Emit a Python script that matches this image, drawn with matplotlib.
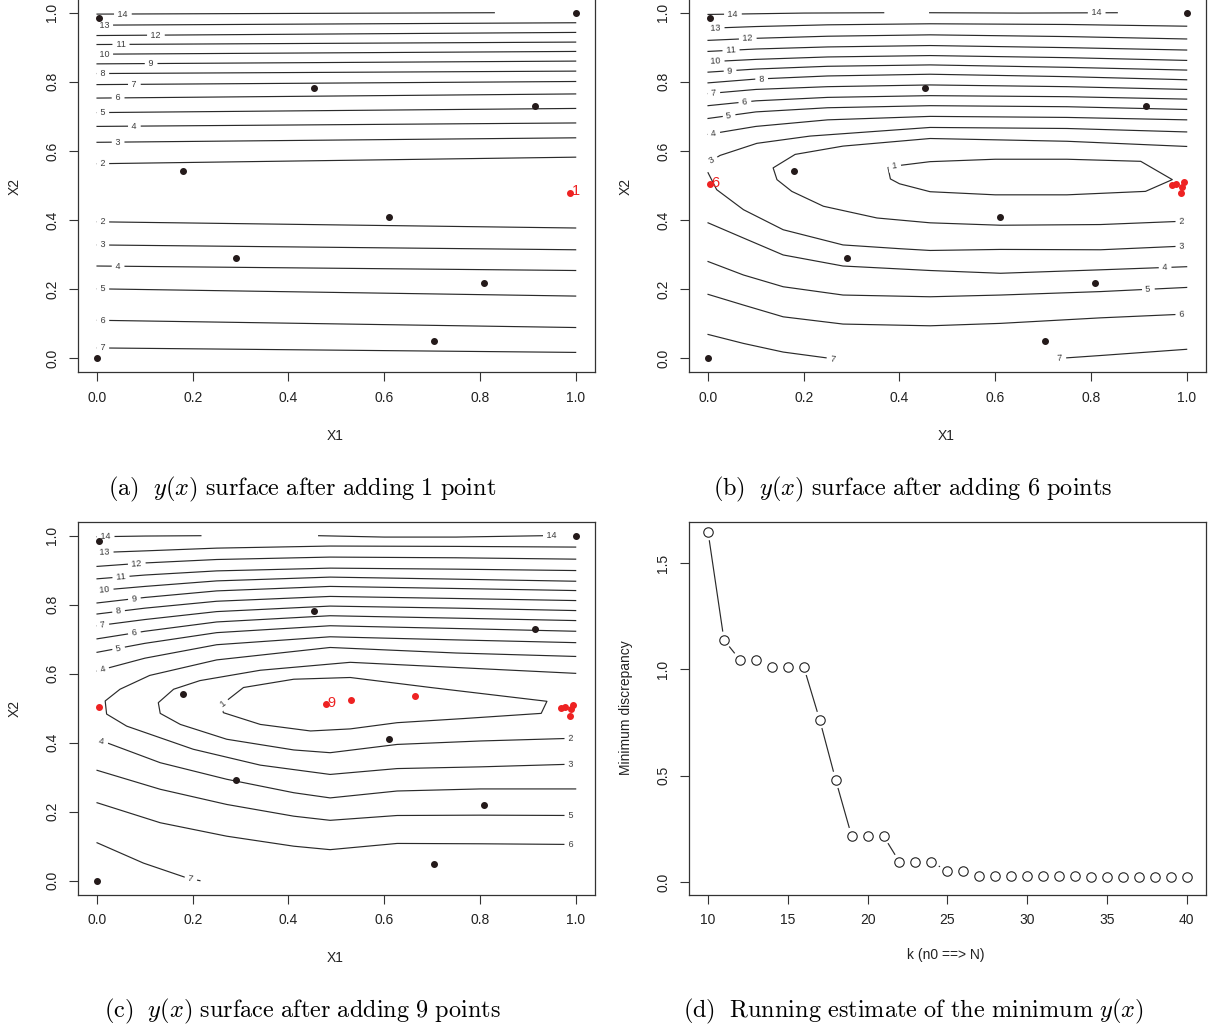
import numpy as np
import matplotlib.pyplot as plt

plt.rcParams['font.family'] = ['Liberation Sans', 'DejaVu Sans']
plt.rcParams['mathtext.fontset'] = 'cm'

# ---------------- data ----------------
# initial design (10 points)
pts_x1 = [0.0, 0.005, 0.180, 0.291, 0.454, 0.611, 0.705, 0.808, 0.916, 1.0]
pts_x2 = [0.0, 0.985, 0.541, 0.291, 0.782, 0.410, 0.049, 0.218, 0.730, 1.0]

# points added sequentially
add_x1 = [0.988, 0.970, 0.977, 0.994, 0.991, 0.004, 0.530, 0.664, 0.478]
add_x2 = [0.478, 0.501, 0.504, 0.509, 0.497, 0.503, 0.525, 0.534, 0.511]

# panel (a): almost straight contours, x2 at the two ends
a_lev = [14, 13, 12, 11, 10, 9, 8, 7, 6, 5, 4, 3, 2, 2, 3, 4, 5, 6, 7]
a_end = [0.83] + [1.0] * 18
a_left = [0.996, 0.964, 0.934, 0.908, 0.880, 0.852, 0.824, 0.792, 0.753, 0.711,
          0.671, 0.625, 0.563, 0.395, 0.328, 0.267, 0.201, 0.110, 0.030]
a_right = [1.0, 0.971, 0.943, 0.915, 0.888, 0.860, 0.831, 0.801, 0.765, 0.723,
           0.681, 0.638, 0.582, 0.377, 0.314, 0.254, 0.180, 0.089, 0.017]
a_lab = [0.054, 0.015, 0.123, 0.050, 0.015, 0.113, 0.012, 0.078, 0.044, 0.012,
         0.078, 0.044, 0.012, 0.012, 0.012, 0.044, 0.012, 0.012, 0.012]

# panel (b): upper contours sampled at stations
b_st = [0.0, 0.1, 0.25, 0.464, 0.75, 1.0]
b_up_lev = [13, 12, 11, 10, 9, 8, 7, 6, 5, 4]
b_up = [[0.955, 0.960, 0.965, 0.968, 0.966, 0.961],
        [0.920, 0.926, 0.932, 0.936, 0.931, 0.924],
        [0.888, 0.895, 0.901, 0.905, 0.899, 0.892],
        [0.858, 0.865, 0.872, 0.876, 0.870, 0.862],
        [0.828, 0.837, 0.845, 0.849, 0.842, 0.834],
        [0.797, 0.808, 0.817, 0.822, 0.815, 0.806],
        [0.766, 0.778, 0.786, 0.791, 0.786, 0.778],
        [0.731, 0.745, 0.755, 0.760, 0.757, 0.750],
        [0.694, 0.713, 0.725, 0.731, 0.728, 0.720],
        [0.648, 0.671, 0.690, 0.700, 0.697, 0.690]]
b_up_lab = [0.016, 0.083, 0.048, 0.016, 0.046, 0.112, 0.012, 0.077, 0.044, 0.012]
b_14a = ([0.0, 0.2, 0.367], [0.995, 0.999, 1.0])
b_14b = ([0.463, 0.65, 0.855], [1.0, 0.999, 1.0])
b_3up = ([0.0, 0.025, 0.102, 0.213, 0.464, 0.75, 1.0],
         [0.566, 0.587, 0.622, 0.643, 0.668, 0.665, 0.655])
b_2 = ([1.0, 0.82, 0.611, 0.464, 0.353, 0.241, 0.175, 0.144, 0.136, 0.182, 0.282, 0.464, 0.75, 1.0],
       [0.397, 0.387, 0.385, 0.392, 0.406, 0.440, 0.483, 0.517, 0.551, 0.590, 0.614, 0.636, 0.628, 0.613])
b_1 = ([0.388, 0.464, 0.60, 0.75, 0.904, 0.970, 0.914, 0.75, 0.60, 0.464, 0.40, 0.381, 0.376, 0.388],
       [0.556, 0.569, 0.576, 0.576, 0.570, 0.517, 0.483, 0.473, 0.473, 0.482, 0.505, 0.519, 0.552, 0.556])
b_3lo = ([0.0, 0.018, 0.074, 0.157, 0.282, 0.402, 0.464, 0.611, 0.820, 1.0],
         [0.537, 0.488, 0.430, 0.372, 0.328, 0.317, 0.312, 0.315, 0.314, 0.325])
b_lo_x1 = [0.0, 0.074, 0.157, 0.282, 0.464, 0.611, 0.820, 1.0]
b_4lo = [0.392, 0.348, 0.299, 0.267, 0.254, 0.246, 0.256, 0.265]
b_5lo = [0.280, 0.241, 0.207, 0.183, 0.178, 0.183, 0.193, 0.205]
b_6lo = [0.185, 0.154, 0.120, 0.099, 0.094, 0.101, 0.117, 0.128]
b_7a = ([0.0, 0.074, 0.157, 0.270], [0.069, 0.043, 0.018, -0.003])
b_7b = ([0.726, 0.82, 1.0], [-0.001, 0.008, 0.026])

# panel (c)
c_st = [0.0, 0.1, 0.25, 0.487, 0.75, 1.0]
c_up_lev = [13, 12, 11, 10, 9, 8, 7, 6, 5, 4]
c_up = [[0.951, 0.956, 0.964, 0.970, 0.969, 0.967],
        [0.911, 0.921, 0.931, 0.938, 0.936, 0.932],
        [0.875, 0.886, 0.898, 0.906, 0.903, 0.899],
        [0.841, 0.853, 0.869, 0.880, 0.874, 0.868],
        [0.805, 0.821, 0.840, 0.853, 0.847, 0.841],
        [0.773, 0.790, 0.810, 0.824, 0.818, 0.812],
        [0.739, 0.757, 0.780, 0.796, 0.790, 0.783],
        [0.701, 0.723, 0.750, 0.768, 0.761, 0.754],
        [0.662, 0.688, 0.719, 0.739, 0.731, 0.723],
        [0.608, 0.645, 0.684, 0.707, 0.698, 0.690]]
c_up_lab = [0.016, 0.083, 0.050, 0.016, 0.078, 0.045, 0.012, 0.078, 0.045, 0.012]
c_14a = ([0.0, 0.1, 0.217], [0.997, 0.999, 1.0])
c_14b = ([0.463, 0.6, 0.75, 0.934, 0.965], [1.0, 0.996, 0.996, 1.0, 1.0])
c_3 = ([1.0, 0.801, 0.627, 0.487, 0.341, 0.201, 0.062, 0.020, 0.017, 0.048, 0.11, 0.25, 0.487, 0.75, 1.0],
       [0.338, 0.330, 0.325, 0.308, 0.335, 0.381, 0.448, 0.483, 0.521, 0.555, 0.595, 0.640, 0.676, 0.660, 0.650])
c_2 = ([1.0, 0.801, 0.627, 0.487, 0.411, 0.271, 0.174, 0.132, 0.128, 0.160, 0.215, 0.341, 0.529, 0.75, 1.0],
       [0.413, 0.405, 0.395, 0.371, 0.379, 0.410, 0.453, 0.485, 0.516, 0.555, 0.580, 0.610, 0.633, 0.618, 0.601])
c_1 = ([0.259, 0.306, 0.411, 0.529, 0.697, 0.940, 0.928, 0.766, 0.627, 0.529, 0.446, 0.341, 0.264, 0.259],
       [0.509, 0.560, 0.584, 0.589, 0.560, 0.520, 0.485, 0.470, 0.458, 0.440, 0.434, 0.453, 0.487, 0.509])
c_lo_x1 = [0.0, 0.132, 0.271, 0.411, 0.487, 0.627, 0.801, 1.0]
c_4lo = ([0.0, 0.020, 0.132, 0.271, 0.411, 0.487, 0.627, 0.801, 1.0],
         [0.405, 0.400, 0.342, 0.294, 0.255, 0.240, 0.260, 0.266, 0.266])
c_5lo = [0.320, 0.265, 0.221, 0.187, 0.175, 0.189, 0.190, 0.189]
c_6lo = [0.226, 0.168, 0.129, 0.100, 0.090, 0.108, 0.107, 0.105]
c_7 = ([0.0, 0.097, 0.188, 0.215], [0.110, 0.051, 0.008, 0.0])

# panel (d)
k_vals = list(range(10, 41))
disc = [1.646, 1.138, 1.044, 1.044, 1.011, 1.011, 1.011, 0.762, 0.480, 0.216,
        0.216, 0.216, 0.094, 0.094, 0.094, 0.052, 0.052, 0.028, 0.028, 0.028,
        0.028, 0.028, 0.028, 0.028, 0.024, 0.024, 0.024, 0.024, 0.024, 0.024, 0.024]

captions = [r'$\mathrm{(a)}\ \ y(x)\ \mathrm{surface\ after\ adding\ 1\ point}$',
            r'$\mathrm{(b)}\ \ y(x)\ \mathrm{surface\ after\ adding\ 6\ points}$',
            r'$\mathrm{(c)}\ \ y(x)\ \mathrm{surface\ after\ adding\ 9\ points}$',
            r'$\mathrm{(d)}\ \ \mathrm{Running\ estimate\ of\ the\ minimum}\ y(x)$']

# ---------------- figure ----------------
W, H = 1210, 1029
fig = plt.figure(figsize=(W / 100, H / 100), dpi=100)

LINE = '#2a2a2a'
RED = '#ee2222'
DOT = '#241a1a'


def box(x0, y0, x1, y1):
    return fig.add_axes([x0 / W, 1 - y1 / H, (x1 - x0) / W, (y1 - y0) / H])


def r_axes(ax, xt, yt, xlim, ylim, fmt):
    ax.set_xlim(*xlim)
    ax.set_ylim(*ylim)
    ax.set_xticks(xt)
    ax.set_yticks(yt)
    ax.set_xticklabels([fmt(v) for v in xt])
    ax.set_yticklabels(['%.1f' % v for v in yt])
    ax.tick_params(direction='out', length=6.5, width=0.8, color='#333333',
                   labelsize=10, pad=7, labelcolor='#222222')
    ax.tick_params(axis='y', labelrotation=90)
    plt.setp(ax.get_yticklabels(), va='center')
    for sp in ax.spines.values():
        sp.set_linewidth(0.9)
        sp.set_color('#333333')


def fig_text(x, y, s, **kw):
    fig.text(x / W, 1 - y / H, s, ha='center', va='center', **kw)


def label_on(ax, xs, ys, xl, txt):
    # contour label written into the line, R style (line broken under it)
    for i in range(len(xs) - 1):
        a, b = xs[i], xs[i + 1]
        if a != b and min(a, b) <= xl <= max(a, b):
            t = (xl - a) / (b - a)
            yl = ys[i] + t * (ys[i + 1] - ys[i])
            p0 = ax.transData.transform((a, ys[i]))
            p1 = ax.transData.transform((b, ys[i + 1]))
            ang = np.degrees(np.arctan2(p1[1] - p0[1], p1[0] - p0[0]))
            if ang > 90:
                ang -= 180
            if ang < -90:
                ang += 180
            ax.text(xl, yl, ' %s ' % txt, fontsize=6.5, color='#3a3a3a', ha='center',
                    va='center', rotation=ang, rotation_mode='anchor', zorder=3,
                    bbox=dict(boxstyle='square,pad=0.15', fc='white', ec='none'))
            return


def contour(ax, xs, ys, lev=None, xl=None):
    ax.plot(xs, ys, color=LINE, lw=0.85, zorder=2)
    if lev is not None:
        label_on(ax, xs, ys, xl, str(lev))


def design(ax, n_added):
    ax.plot(pts_x1, pts_x2, 'o', ms=4, color=DOT, zorder=5)
    ax.plot(add_x1[:n_added], add_x2[:n_added], 'o', ms=4, color=RED, zorder=5)
    ax.annotate(str(n_added), (add_x1[n_added - 1], add_x2[n_added - 1]),
                xytext=(1.2, -1.6), textcoords='offset points', color=RED,
                fontsize=10.5, ha='left', va='baseline', zorder=6)


ax_a = box(77.9, -1.1, 594.8, 372.1)
ax_b = box(688.9, -1.1, 1205.8, 372.1)
ax_c = box(77.9, 521.9, 594.8, 894.5)
ax_d = box(688.9, 521.9, 1205.8, 894.5)

ticks01 = [0.0, 0.2, 0.4, 0.6, 0.8, 1.0]
for ax in (ax_a, ax_b, ax_c):
    r_axes(ax, ticks01, ticks01, (-0.04, 1.04), (-0.04, 1.04), lambda v: '%.1f' % v)

# (a)
for lev, xe, yl, yr, xl in zip(a_lev, a_end, a_left, a_right, a_lab):
    contour(ax_a, [0.0, xe], [yl, yr], lev, xl)
design(ax_a, 1)

# (b)
contour(ax_b, *b_14a, 14, 0.052)
contour(ax_b, *b_14b, 14, 0.812)
for lev, row, xl in zip(b_up_lev, b_up, b_up_lab):
    contour(ax_b, b_st, row, lev, xl)
contour(ax_b, *b_3up, 3, 0.008)
contour(ax_b, *b_2, 2, 0.99)
contour(ax_b, *b_1, 1, 0.390)
contour(ax_b, *b_3lo, 3, 0.99)
contour(ax_b, b_lo_x1, b_4lo, 4, 0.955)
contour(ax_b, b_lo_x1, b_5lo, 5, 0.92)
contour(ax_b, b_lo_x1, b_6lo, 6, 0.99)
contour(ax_b, *b_7a, 7, 0.261)
contour(ax_b, *b_7b, 7, 0.735)
design(ax_b, 6)

# (c)
contour(ax_c, *c_14a, 14, 0.018)
contour(ax_c, *c_14b, 14, 0.950)
for lev, row, xl in zip(c_up_lev, c_up, c_up_lab):
    contour(ax_c, c_st, row, lev, xl)
contour(ax_c, *c_3, 3, 0.99)
contour(ax_c, *c_2, 2, 0.99)
contour(ax_c, *c_1, 1, 0.263)
contour(ax_c, *c_4lo, 4, 0.010)
contour(ax_c, c_lo_x1, c_5lo, 5, 0.99)
contour(ax_c, c_lo_x1, c_6lo, 6, 0.99)
contour(ax_c, *c_7, 7, 0.196)
design(ax_c, 9)

# (d)
r_axes(ax_d, [10, 15, 20, 25, 30, 35, 40], [0.0, 0.5, 1.0, 1.5], (8.8, 41.2),
       (-0.059, 1.693), lambda v: '%d' % v)
ax_d.plot(k_vals, disc, 'o', ms=6.8, mfc='none', mec='#222222', mew=0.8, zorder=3)
pix = ax_d.transData.transform(np.column_stack([k_vals, disc]))
inv = ax_d.transData.inverted()
gap = 9.0
for p, q in zip(pix[:-1], pix[1:]):
    d = np.hypot(*(q - p))
    if d > 2 * gap:
        u = (q - p) / d
        seg = inv.transform(np.array([p + gap * u, q - gap * u]))
        ax_d.plot(seg[:, 0], seg[:, 1], color=LINE, lw=0.85)

# axis titles
for cx, cy in ((335, 436), (946, 436), (335, 958)):
    fig_text(cx, cy, 'X1', fontsize=10, color='#222222')
for cx, cy in ((15, 186), (626, 186), (15, 708)):
    fig_text(cx, cy, 'X2', fontsize=10, color='#222222', rotation=90)
fig_text(946, 955, 'k (n0 ==> N)', fontsize=10, color='#222222')
fig_text(626, 708, 'Minimum discrepancy', fontsize=10, color='#222222', rotation=90)

# captions
for (cx, cy), cap in zip(((302, 489), (913, 489), (302, 1011), (913, 1011)), captions):
    fig_text(cx, cy, cap, fontsize=17.5, color='black')

fig.savefig('out.png', dpi=100)
